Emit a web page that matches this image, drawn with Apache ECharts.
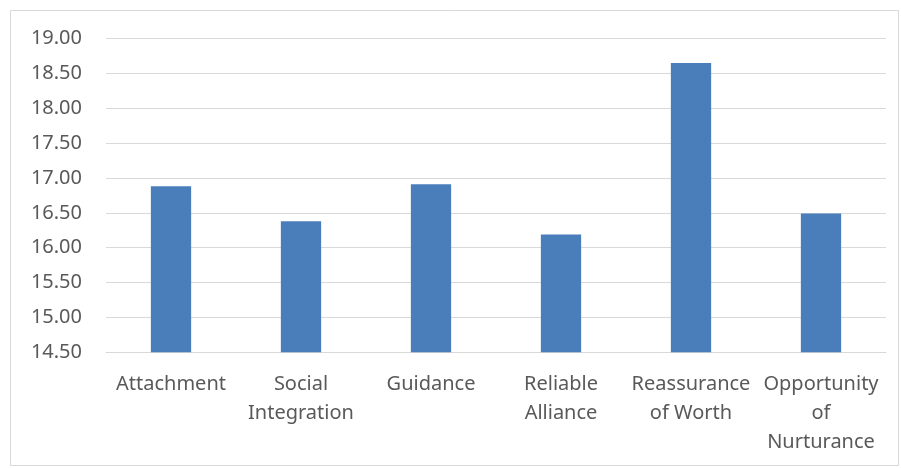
<!DOCTYPE html>
<html>
<head>
<meta charset="utf-8">
<script src="https://cdn.jsdelivr.net/npm/echarts@6/dist/echarts.min.js"></script>
<style>html,body{margin:0;padding:0;background:#fff;}#c{width:901px;height:468px;}</style>
</head>
<body>
<div id="c"></div>
<script>
var categories = ["Attachment", "Social\nIntegration", "Guidance", "Reliable\nAlliance", "Reassurance\nof Worth", "Opportunity\nof\nNurturance"];
var values = [16.88, 16.38, 16.91, 16.19, 18.65, 16.49];
var yMin = 14.5, yMax = 19.0, yStep = 0.5;

var chart = echarts.init(document.getElementById('c'), null, {renderer: 'canvas'});
var font = 'Noto Sans, sans-serif';
chart.setOption({
  animation: false,
  backgroundColor: '#ffffff',
  graphic: [{
    type: 'rect', left: 10, top: 10, z: -1,
    shape: {width: 888, height: 455},
    style: {fill: '#ffffff', stroke: '#d9d9d9', lineWidth: 1}
  }],
  grid: {left: 106, right: 15, top: 38.5, bottom: 115.7},
  xAxis: {
    type: 'category',
    data: categories,
    axisTick: {show: false},
    axisLine: {show: true, lineStyle: {color: '#d9d9d9', width: 1}},
    axisLabel: {color: '#595959', fontSize: 20, fontFamily: font, lineHeight: 29, margin: 17, interval: 0}
  },
  yAxis: {
    type: 'value',
    min: yMin, max: yMax, interval: yStep,
    axisLine: {show: false},
    axisTick: {show: false},
    splitLine: {lineStyle: {color: '#d9d9d9', width: 1}},
    axisLabel: {color: '#595959', fontSize: 20, fontFamily: font, margin: 24,
      formatter: function (v) { return v.toFixed(2); }}
  },
  series: [{
    type: 'bar',
    data: values,
    barWidth: '31%',
    itemStyle: {color: '#4a7ebb'}
  }]
});
</script>
</body>
</html>
